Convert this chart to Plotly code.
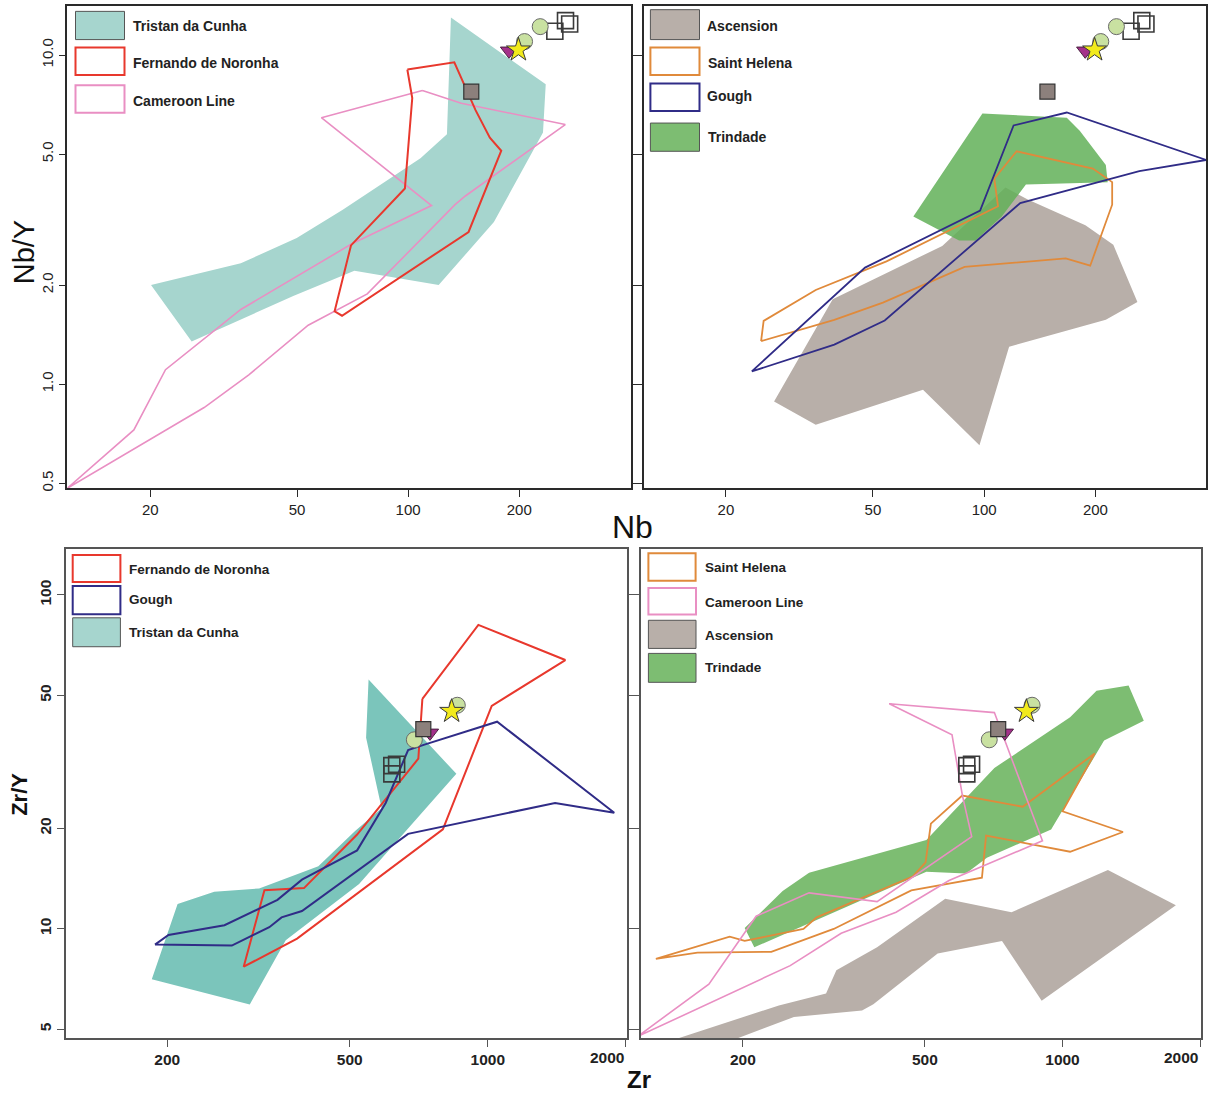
import plotly.graph_objects as go

W, H = 1213, 1094

# ---------------- Nb vs Nb/Y fields ----------------
tristan_nb = [130.6, 236, 232, 170.8, 121, 71.5, 49, 25.9, 20.1, 35.2, 49.9, 66.5, 108, 127.4]
tristan_nby = [13.0, 8.15, 5.82, 3.11, 2.00, 2.21, 1.856, 1.348, 2.00, 2.33, 2.78, 3.39, 4.86, 5.75]

fernando_nb = [99.5, 133.4, 152.3, 166.5, 178.8, 145.8, 66.2, 63.2, 70.0, 98.0, 102.6]
fernando_nby = [9.04, 9.51, 6.80, 5.61, 5.12, 2.90, 1.614, 1.665, 2.64, 3.93, 7.40]

cameroon_nb = [109.3, 139.3, 266.6, 142.9, 134, 77.5, 53.6, 37.0, 28.0, 11.9, 18.06, 22.0, 35.2, 70.0, 115.7, 58.2]
cameroon_nby = [7.80, 7.14, 6.15, 3.73, 3.51, 1.88, 1.51, 1.067, 0.849, 0.482, 0.726, 1.106, 1.686, 2.66, 3.49, 6.45]

ascension_nb = [27.0, 38.9, 77.0, 114.2, 131.2, 187.9, 223.6, 259.8, 213.4, 116.8, 97.1, 68.3, 35.0]
ascension_nby = [0.885, 1.81, 2.63, 3.96, 3.64, 3.04, 2.65, 1.777, 1.568, 1.30, 0.652, 0.962, 0.753]

trindade_nb = [64.3, 98.9, 167.3, 181.4, 213.4, 215.9, 129.7, 111.6, 94.8, 85.5]
trindade_nby = [3.23, 6.64, 6.45, 5.89, 4.63, 4.11, 4.04, 3.23, 2.73, 2.73]

helena_nb = [24.9, 25.3, 35.0, 54.4, 109, 106.5, 122.4, 196.8, 222, 222, 193.6, 166.2, 88.5, 53.2, 39.3]
helena_nby = [1.351, 1.557, 1.933, 2.36, 3.47, 4.21, 5.10, 4.52, 4.11, 3.51, 2.29, 2.41, 2.27, 1.769, 1.568]

gough_nb = [23.5, 47.6, 97.5, 120.1, 167.3, 398.9, 262.9, 125.2, 53.8, 39.3]
gough_nby = [1.093, 2.26, 3.37, 6.11, 6.69, 4.80, 4.44, 3.55, 1.561, 1.319]

# samples (Nb, Nb/Y)
open_sq_nb = [249.8, 267, 274]
open_sq_nby = [11.81, 12.72, 12.43]
circle_nb = [228, 206.8]
circle_nby = [12.2, 10.99]
tri_nb = [187.7]
tri_nby = [10.3]
star_nb = [199]
star_nby = [10.37]
gray_sq_nb = [148.3]
gray_sq_nby = [7.74]

# ---------------- Zr vs Zr/Y fields ----------------
tristan_zr = [549.5, 854, 524, 362.5, 302.6, 185, 210.6, 253.2, 317.2, 427, 513.5, 586.7, 542.7]
tristan_zry = [55.8, 29.1, 13.6, 9.23, 5.93, 7.06, 11.86, 12.91, 13.2, 15.38, 19.6, 22.96, 37.3]

fernando_zr = [720, 953.6, 1476, 1020, 798, 383.8, 293.5, 325.7, 397.3, 518.8, 705.5]
fernando_zry = [48.8, 81.3, 63.8, 46.5, 19.85, 9.34, 7.69, 13.03, 13.23, 19.14, 32.3]

gough_zr = [188, 201.2, 266.5, 347.8, 393.3, 518.8, 598.8, 670.2, 727.6, 1048, 1887, 1402, 670.2, 393.3, 355, 333.8, 276.5]
gough_zry = [8.96, 9.57, 10.24, 12.2, 14.02, 17.16, 23.8, 34.3, 35.6, 41.7, 22.25, 23.8, 19.23, 11.29, 10.81, 10.1, 8.9]

ascension_zr = [138, 239.7, 304, 320.2, 393.1, 554, 773.4, 1257, 1770, 900.4, 737.4, 533.3, 385.8, 364.4, 258.6, 187.2]
ascension_zry = [4.6, 5.89, 6.39, 7.51, 8.79, 12.29, 11.2, 14.99, 11.76, 6.08, 9.19, 8.42, 5.94, 5.69, 5.44, 4.6]

trindade_zr = [201.8, 244.3, 279.1, 503.8, 709.6, 1039, 1187, 1395, 1506, 1233, 944.4, 683.3, 615.2, 503.8, 211.8]
trindade_zry = [10.05, 12.96, 14.7, 18.42, 30.3, 43.0, 51.6, 53.5, 42.0, 36.6, 19.81, 16.32, 14.63, 14.81, 8.79]

helena_zr = [129, 187.1, 201.8, 271.3, 290, 471.3, 501.8, 515.4, 603.6, 818.6, 1176, 1000, 1356, 1039,
             680.6, 666.5, 467, 315.9, 230.7, 159.1]
helena_zry = [8.12, 9.46, 9.19, 9.98, 10.81, 14.36, 15.81, 20.64, 25.06, 23.19, 33.5, 22.47, 19.48, 17.0,
              19.01, 14.21, 13.02, 9.98, 8.52, 8.48]

cameroon_zr = [418, 709.6, 903.9, 564.7, 432.5, 328.1, 253.8, 117.3, 168.5, 213.8, 279.1, 393.1, 633, 603.6, 573.3]
cameroon_zry = [47.2, 44.4, 18.33, 13.94, 11.2, 9.69, 7.75, 4.74, 6.82, 10.9, 12.8, 12.05, 18.87, 25.2, 38.1]

# samples (Zr, Zr/Y)
open_sq_zr = [617.6, 632.6, 617.6]
open_sq_zry = [30.8, 31.1, 29.1]
circle_zr = [691.5, 858]
circle_zry = [36.8, 46.7]
tri_zr = [748]
tri_zry = [38.6]
star_zr = [834]
star_zry = [44.8]
gray_sq_zr = [723.4]
gray_sq_zry = [39.6]

# tick labels
nb_ticks = [20, 50, 100, 200]
nb_ticktext = ["20", "50", "100", "200"]
nby_ticks = [0.5, 1, 2, 5, 10]
nby_ticktext = ["0.5", "1.0", "2.0", "5.0", "10.0"]
zr_ticks = [200, 500, 1000, 2000]
zr_ticktext = ["200", "500", "1000", ""]
zry_ticks = [5, 10, 20, 50, 100]
zry_ticktext = ["5", "10", "20", "50", "100"]

# colours
TEAL_LIGHT = "#a6d5ce"
TEAL = "#7bc5bb"
RED = "#e8382d"
PINK = "#e98fc3"
NAVY = "#302c87"
ORANGE = "#e08a3b"
GREY = "#b8afa9"
GREEN = "rgba(98,176,88,0.85)"
GREEN_SW = "#7dbd72"

fig = go.Figure()


def closed(xs, ys):
    return list(xs) + [xs[0]], list(ys) + [ys[0]]


def fill_poly(xs, ys, color, ax):
    cx, cy = closed(xs, ys)
    fig.add_trace(go.Scatter(x=cx, y=cy, mode="lines", fill="toself", fillcolor=color,
                             line=dict(width=0, color=color), hoverinfo="skip",
                             xaxis="x" + ax, yaxis="y" + ax))


def line_poly(xs, ys, color, ax, width=2):
    cx, cy = closed(xs, ys)
    fig.add_trace(go.Scatter(x=cx, y=cy, mode="lines", line=dict(width=width, color=color),
                             hoverinfo="skip", xaxis="x" + ax, yaxis="y" + ax))


def samples(ax, sq, circ, tri, star, gsq):
    fig.add_trace(go.Scatter(x=sq[0], y=sq[1], mode="markers", xaxis="x" + ax, yaxis="y" + ax,
                             marker=dict(symbol="square-open", size=16, color="#3a3a3a",
                                         line=dict(width=1.6, color="#3a3a3a"))))
    fig.add_trace(go.Scatter(x=circ[0], y=circ[1], mode="markers", xaxis="x" + ax, yaxis="y" + ax,
                             marker=dict(symbol="circle", size=16, color="#c9e1a1",
                                         line=dict(width=1, color="#6a6a6a"))))
    fig.add_trace(go.Scatter(x=tri[0], y=tri[1], mode="markers", xaxis="x" + ax, yaxis="y" + ax,
                             marker=dict(symbol="triangle-down", size=15, color="#a4308a",
                                         line=dict(width=1, color="#4a2040"))))
    fig.add_trace(go.Scatter(x=star[0], y=star[1], mode="markers", xaxis="x" + ax, yaxis="y" + ax,
                             marker=dict(symbol="star", size=18, color="#f2ea1c",
                                         line=dict(width=1, color="#3a3a3a"))))
    fig.add_trace(go.Scatter(x=gsq[0], y=gsq[1], mode="markers", xaxis="x" + ax, yaxis="y" + ax,
                             marker=dict(symbol="square", size=15, color="#8c807c",
                                         line=dict(width=1.2, color="#333333"))))


# panel a: Nb vs Nb/Y (Tristan, Fernando de Noronha, Cameroon Line)
fill_poly(tristan_nb, tristan_nby, TEAL_LIGHT, "")
line_poly(cameroon_nb, cameroon_nby, PINK, "", 1.6)
line_poly(fernando_nb, fernando_nby, RED, "", 2)
samples("", (open_sq_nb, open_sq_nby), (circle_nb, circle_nby), (tri_nb, tri_nby),
        (star_nb, star_nby), (gray_sq_nb, gray_sq_nby))

# panel b: Nb vs Nb/Y (Ascension, Saint Helena, Gough, Trindade)
fill_poly(ascension_nb, ascension_nby, GREY, "2")
fill_poly(trindade_nb, trindade_nby, GREEN, "2")
line_poly(helena_nb, helena_nby, ORANGE, "2", 1.8)
line_poly(gough_nb, gough_nby, NAVY, "2", 1.8)
samples("2", (open_sq_nb, open_sq_nby), (circle_nb, circle_nby), (tri_nb, tri_nby),
        (star_nb, star_nby), (gray_sq_nb, gray_sq_nby))

# panel c: Zr vs Zr/Y (Fernando de Noronha, Gough, Tristan)
fill_poly(tristan_zr, tristan_zry, TEAL, "3")
line_poly(fernando_zr, fernando_zry, RED, "3", 2)
line_poly(gough_zr, gough_zry, NAVY, "3", 2)
samples("3", (open_sq_zr, open_sq_zry), (circle_zr, circle_zry), (tri_zr, tri_zry),
        (star_zr, star_zry), (gray_sq_zr, gray_sq_zry))

# panel d: Zr vs Zr/Y (Saint Helena, Cameroon Line, Ascension, Trindade)
fill_poly(ascension_zr, ascension_zry, GREY, "4")
fill_poly(trindade_zr, trindade_zry, GREEN_SW, "4")
line_poly(helena_zr, helena_zry, ORANGE, "4", 1.8)
line_poly(cameroon_zr, cameroon_zry, PINK, "4", 1.6)
samples("4", (open_sq_zr, open_sq_zry), (circle_zr, circle_zry), (tri_zr, tri_zry),
        (star_zr, star_zry), (gray_sq_zr, gray_sq_zry))


def px_x(v):
    return v / W


def px_y(v):
    return 1 - v / H


FONT = "Arial, Liberation Sans, sans-serif"


def axis_common(color, bold):
    return dict(type="log", showgrid=False, zeroline=False, showline=True, linecolor=color,
                linewidth=1.5, ticks="outside", ticklen=7, tickwidth=1, tickcolor=color,
                tickfont=dict(family=FONT, size=15 if not bold else 15.5, color="#222",
                              weight="bold" if bold else "normal"))


top_y_dom = [px_y(489.7), px_y(6.2)]
bot_y_dom = [px_y(1041), px_y(550.6)]

layout_axes = {}
# top-left
layout_axes["xaxis"] = dict(axis_common("#2a2a2a", False), domain=[px_x(67.3), px_x(630.6)],
                            range=[1.0763, 2.6029], anchor="y", mirror=True,
                            tickvals=nb_ticks, ticktext=nb_ticktext)
layout_axes["yaxis"] = dict(axis_common("#2a2a2a", False), domain=top_y_dom,
                            range=[-0.3167, 1.1485], anchor="x", mirror="ticks",
                            tickvals=nby_ticks, ticktext=nby_ticktext, tickangle=-90)
# top-right
layout_axes["xaxis2"] = dict(axis_common("#2a2a2a", False), domain=[px_x(643.8), px_x(1206)],
                             range=[1.0788, 2.6003], anchor="y2", mirror=True,
                             tickvals=nb_ticks, ticktext=nb_ticktext)
layout_axes["yaxis2"] = dict(axis_common("#2a2a2a", False), domain=top_y_dom,
                             range=[-0.3167, 1.1485], anchor="x2", mirror=True,
                             tickvals=nby_ticks, showticklabels=False)
# bottom-left
layout_axes["xaxis3"] = dict(axis_common("#555555", True), domain=[px_x(66.1), px_x(626.5)],
                             range=[2.0803, 3.3025], anchor="y3", mirror=True,
                             tickvals=zr_ticks, ticktext=zr_ticktext)
layout_axes["yaxis3"] = dict(axis_common("#555555", True), domain=bot_y_dom,
                             range=[0.672, 2.1372], anchor="x3", mirror="ticks",
                             tickvals=zry_ticks, ticktext=zry_ticktext, tickangle=-90)
# bottom-right
layout_axes["xaxis4"] = dict(axis_common("#555555", True), domain=[px_x(640.8), px_x(1201.3)],
                             range=[2.0777, 3.3036], anchor="y4", mirror=True,
                             tickvals=zr_ticks, ticktext=zr_ticktext)
layout_axes["yaxis4"] = dict(axis_common("#555555", True), domain=bot_y_dom,
                             range=[0.672, 2.1372], anchor="x4", mirror=True,
                             tickvals=zry_ticks, showticklabels=False)

# legend boxes: (x0, y0, x1, y1, fill, outline, outline width, label, text x, text y, font size)
legend_items = [
    (75.5, 11.4, 124.5, 39.7, TEAL_LIGHT, "#555", 1, "Tristan da Cunha", 131, 26, 14),
    (75.5, 47.6, 124.5, 75.2, "white", RED, 2, "Fernando de Noronha", 131, 63, 14),
    (75.5, 85.5, 124.5, 113.1, "white", PINK, 2, "Cameroon Line", 131, 101, 14),
    (650.4, 9.7, 699.5, 39.7, GREY, "#555", 1, "Ascension", 705, 26.2, 14),
    (650.4, 47.6, 699.5, 75.2, "white", ORANGE, 2, "Saint Helena", 706, 62.8, 14),
    (650.4, 83.8, 699.5, 111.4, "white", NAVY, 2, "Gough", 705, 95.9, 14),
    (650.4, 123.4, 699.5, 151.7, GREEN_SW, "#555", 1, "Trindade", 706, 136.9, 14),
    (72.7, 556.6, 120.4, 583.5, "white", RED, 2, "Fernando de Noronha", 127.3, 571.1, 13.5),
    (72.7, 587.7, 120.4, 616.0, "white", NAVY, 2, "Gough", 127.3, 601.5, 13.5),
    (72.7, 619.5, 120.4, 648.5, TEAL_LIGHT, "#555", 1, "Tristan da Cunha", 127.3, 634.7, 13.5),
    (648.4, 554.8, 695.6, 582.4, "white", ORANGE, 2, "Saint Helena", 702.5, 569.3, 13.5),
    (648.4, 589.5, 696.0, 616.3, "white", PINK, 2, "Cameroon Line", 702.5, 604.3, 13.5),
    (648.4, 622.0, 696.0, 650.2, GREY, "#555", 1, "Ascension", 702.5, 637.2, 13.5),
    (648.4, 655.2, 696.0, 684.2, GREEN_SW, "#555", 1, "Trindade", 702.5, 669.0, 13.5),
]

shapes = []
annotations = []
for x0, y0, x1, y1, fc, lc, lw, label, tx, ty, fs in legend_items:
    shapes.append(dict(type="rect", xref="paper", yref="paper", x0=px_x(x0), x1=px_x(x1),
                       y0=px_y(y1), y1=px_y(y0), fillcolor=fc, line=dict(color=lc, width=lw)))
    annotations.append(dict(xref="paper", yref="paper", x=px_x(tx), y=px_y(ty), text=label,
                            showarrow=False, xanchor="left", yanchor="middle",
                            font=dict(family=FONT, size=fs, color="#222", weight="bold")))

# axis titles
annotations.append(dict(xref="paper", yref="paper", x=px_x(24), y=px_y(253),
                        text="Nb/Y", textangle=-90,
                        showarrow=False, xanchor="center", yanchor="middle",
                        font=dict(family=FONT, size=29, color="#111")))
annotations.append(dict(xref="paper", yref="paper", x=px_x(632), y=px_y(528), text="Nb",
                        showarrow=False, xanchor="center", yanchor="middle",
                        font=dict(family=FONT, size=32, color="#111")))
annotations.append(dict(xref="paper", yref="paper", x=px_x(20), y=px_y(797), text="Zr/Y",
                        textangle=-90, showarrow=False, xanchor="center", yanchor="middle",
                        font=dict(family=FONT, size=22, color="#111", weight="bold")))
annotations.append(dict(xref="paper", yref="paper", x=px_x(639), y=px_y(1082), text="Zr",
                        showarrow=False, xanchor="center", yanchor="middle",
                        font=dict(family=FONT, size=24, color="#111", weight="bold")))

# right-aligned "2000" labels at the end of the Zr axes
for xa in ["x3", "x4"]:
    annotations.append(dict(xref=xa, yref="paper", x=3.30103, y=px_y(1060), text="2000",
                            showarrow=False, xanchor="right", yanchor="middle",
                            font=dict(family=FONT, size=15.5, color="#222", weight="bold")))

fig.update_layout(
    width=W, height=H, margin=dict(l=0, r=0, t=0, b=0),
    paper_bgcolor="white", plot_bgcolor="white", showlegend=False,
    shapes=shapes, annotations=annotations, **layout_axes,
)

fig.write_html("out.html")
